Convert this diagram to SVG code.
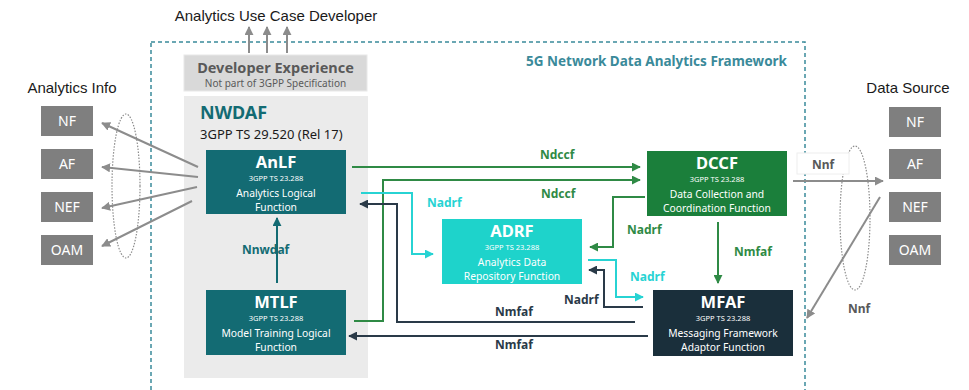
<svg xmlns="http://www.w3.org/2000/svg" width="969" height="390" viewBox="0 0 969 390">
<style>
text{font-family:"Noto Sans","Open Sans",sans-serif}
.lbl{font-family:"Liberation Sans",Arial,sans-serif;font-size:15px;fill:#1a1a1a}
.gbox{fill:#7f7f7f}
.gtxt{fill:#fff;font-size:14px;text-anchor:middle}
.ttl{fill:#fff;font-weight:bold;font-size:16.5px;text-anchor:middle}
.spec{fill:#fff;font-size:7.5px;text-anchor:middle}
.desc{fill:#fff;font-size:10.3px;text-anchor:middle}
.ln{fill:none;stroke-width:2}
.g{stroke:#2f8a45}.c{stroke:#27d3d3}.d{stroke:#2a3a48}.gr{stroke:#8c8c8c}.t{stroke:#136b73}
.lg{font-weight:bold;font-size:12px;fill:#2f8a45}
.lc{font-weight:bold;font-size:12px;fill:#27d3d3}
.ld{font-weight:bold;font-size:12px;fill:#2a3a48}
.lgr{font-weight:bold;font-size:12px;fill:#595959}
.lt{font-weight:bold;font-size:12px;fill:#136b73}
</style>
<defs>
<marker id="ag" viewBox="0 0 10 10" refX="9" refY="5" markerWidth="9" markerHeight="9" markerUnits="userSpaceOnUse" orient="auto"><path d="M0,0L10,5L0,10z" fill="#2f8a45"/></marker>
<marker id="ac" viewBox="0 0 10 10" refX="9" refY="5" markerWidth="9" markerHeight="9" markerUnits="userSpaceOnUse" orient="auto"><path d="M0,0L10,5L0,10z" fill="#27d3d3"/></marker>
<marker id="ad" viewBox="0 0 10 10" refX="9" refY="5" markerWidth="9" markerHeight="9" markerUnits="userSpaceOnUse" orient="auto"><path d="M0,0L10,5L0,10z" fill="#2a3a48"/></marker>
<marker id="agr" viewBox="0 0 10 10" refX="9" refY="5" markerWidth="9" markerHeight="9" markerUnits="userSpaceOnUse" orient="auto"><path d="M0,0L10,5L0,10z" fill="#8c8c8c"/></marker>
<marker id="at" viewBox="0 0 10 10" refX="9" refY="5" markerWidth="9" markerHeight="9" markerUnits="userSpaceOnUse" orient="auto"><path d="M0,0L10,5L0,10z" fill="#136b73"/></marker>
</defs>
<rect width="969" height="390" fill="#fff"/>

<g id="framework">
<rect x="151" y="42" width="654" height="360" fill="none" stroke="#3a8a9a" stroke-width="1.5" stroke-dasharray="4,3"/>
<text x="787" y="66" text-anchor="end" font-weight="bold" font-size="13.5" fill="#3a8a9a">5G Network Data Analytics Framework</text>
</g>

<g id="use-case-developer">
<text class="lbl" x="276" y="21" text-anchor="middle">Analytics Use Case Developer</text>
</g>

<g id="developer-experience">
<rect x="184" y="55" width="183" height="36" fill="#d9d9d9" stroke="#e8e8e8"/>
<text x="275.5" y="73" text-anchor="middle" font-weight="bold" font-size="14.5" fill="#595959">Developer Experience</text>
<text x="275.5" y="87" text-anchor="middle" font-size="10" fill="#595959">Not part of 3GPP Specification</text>
</g>

<g id="nwdaf">
<rect x="184" y="96" width="184" height="282" fill="#ebebeb"/>
<text x="200" y="119" font-weight="bold" font-size="18" fill="#136b73">NWDAF</text>
<text x="200" y="139" font-size="13" fill="#1a1a1a">3GPP TS 29.520 (Rel 17)</text>
</g>

<g id="anlf">
<rect x="206" y="150" width="140" height="64" fill="#136b73"/>
<text class="ttl" x="276" y="168">AnLF</text>
<text class="spec" x="276" y="181">3GPP TS 23.288</text>
<text class="desc" x="276" y="196.5">Analytics Logical</text>
<text class="desc" x="276" y="211">Function</text>
</g>

<g id="mtlf">
<rect x="206" y="290" width="140" height="65" fill="#136b73"/>
<text class="ttl" x="276" y="308">MTLF</text>
<text class="spec" x="276" y="321">3GPP TS 23.288</text>
<text class="desc" x="276" y="336.5">Model Training Logical</text>
<text class="desc" x="276" y="351">Function</text>
</g>

<g id="adrf">
<rect x="442" y="219" width="140" height="65" fill="#1ed3cb"/>
<text class="ttl" x="512" y="237">ADRF</text>
<text class="spec" x="512" y="250">3GPP TS 23.288</text>
<text class="desc" x="512" y="265.5">Analytics Data</text>
<text class="desc" x="512" y="280">Repository Function</text>
</g>

<g id="dccf">
<rect x="647" y="151" width="140" height="65" fill="#1b7f3b"/>
<text class="ttl" x="717" y="169">DCCF</text>
<text class="spec" x="717" y="182">3GPP TS 23.288</text>
<text class="desc" x="717" y="197.5">Data Collection and</text>
<text class="desc" x="717" y="212">Coordination Function</text>
</g>

<g id="mfaf">
<rect x="653" y="290" width="140" height="66" fill="#1a2f3b"/>
<text class="ttl" x="723" y="308">MFAF</text>
<text class="spec" x="723" y="321">3GPP TS 23.288</text>
<text class="desc" x="723" y="336.5">Messaging Framework</text>
<text class="desc" x="723" y="351">Adaptor Function</text>
</g>

<g id="analytics-info">
<text class="lbl" x="72" y="93" text-anchor="middle">Analytics Info</text>
<rect class="gbox" x="41" y="106" width="52" height="30"/><text class="gtxt" x="67" y="126">NF</text>
<rect class="gbox" x="41" y="149" width="52" height="30"/><text class="gtxt" x="67" y="169">AF</text>
<rect class="gbox" x="41" y="192" width="52" height="30"/><text class="gtxt" x="67" y="212">NEF</text>
<rect class="gbox" x="41" y="235" width="52" height="30"/><text class="gtxt" x="67" y="255">OAM</text>
<ellipse cx="126" cy="186" rx="14" ry="72" fill="none" stroke="#8c8c8c" stroke-width="1.2" stroke-dasharray="1.5,1.5"/>
</g>

<g id="data-source">
<text class="lbl" x="908" y="93" text-anchor="middle">Data Source</text>
<rect class="gbox" x="889" y="107" width="52" height="30"/><text class="gtxt" x="915" y="127">NF</text>
<rect class="gbox" x="889" y="149" width="52" height="30"/><text class="gtxt" x="915" y="169">AF</text>
<rect class="gbox" x="889" y="192" width="52" height="30"/><text class="gtxt" x="915" y="212">NEF</text>
<rect class="gbox" x="889" y="235" width="52" height="30"/><text class="gtxt" x="915" y="255">OAM</text>
<ellipse cx="855" cy="218" rx="15" ry="72" fill="none" stroke="#8c8c8c" stroke-width="1.2" stroke-dasharray="1.5,1.5"/>
</g>

<g id="connectors">
<!-- developer arrows -->
<line class="ln gr" x1="249" y1="53" x2="249" y2="27" marker-end="url(#agr)"/>
<line class="ln gr" x1="267" y1="53" x2="267" y2="27" marker-end="url(#agr)"/>
<line class="ln gr" x1="287" y1="53" x2="287" y2="27" marker-end="url(#agr)"/>
<!-- AnLF to analytics info -->
<line class="ln gr" x1="198" y1="167" x2="102" y2="123" marker-end="url(#agr)"/>
<line class="ln gr" x1="198" y1="177" x2="102" y2="167" marker-end="url(#agr)"/>
<line class="ln gr" x1="197" y1="187" x2="102" y2="208" marker-end="url(#agr)"/>
<line class="ln gr" x1="192" y1="201" x2="102" y2="246" marker-end="url(#agr)"/>
<!-- Nnwdaf -->
<line class="ln t" x1="277" y1="283" x2="277" y2="218" marker-end="url(#at)"/>
<text class="lt" x="242" y="254">Nnwdaf</text>
<!-- Ndccf -->
<line class="ln g" x1="352" y1="167" x2="640" y2="167" marker-end="url(#ag)"/>
<text class="lg" x="540" y="159">Ndccf</text>
<polyline class="ln g" points="354,321 383,321 383,180 640,180" marker-end="url(#ag)"/>
<text class="lg" x="541" y="198">Ndccf</text>
<!-- Nadrf green -->
<polyline class="ln g" points="645,197 613,197 613,247 590,247" marker-end="url(#ag)"/>
<text class="lg" x="627" y="234">Nadrf</text>
<!-- Nmfaf green -->
<line class="ln g" x1="718" y1="222" x2="718" y2="283" marker-end="url(#ag)"/>
<text class="lg" x="734" y="256">Nmfaf</text>
<!-- Nadrf cyan -->
<polyline class="ln c" points="361,193 412,193 412,254 433,254" marker-end="url(#ac)"/>
<text class="lc" x="427" y="207">Nadrf</text>
<polyline class="ln c" points="588,260 616,260 616,297 643,297" marker-end="url(#ac)"/>
<text class="lc" x="630" y="281">Nadrf</text>
<!-- Nadrf dark -->
<polyline class="ln d" points="643,307 604,307 604,270 589,270" marker-end="url(#ad)"/>
<text class="ld" x="564" y="304">Nadrf</text>
<!-- Nmfaf dark -->
<polyline class="ln d" points="635,322 397,322 397,204 360,204" marker-end="url(#ad)"/>
<text class="ld" x="495" y="316">Nmfaf</text>
<line class="ln d" x1="648" y1="336" x2="349" y2="336" marker-end="url(#ad)"/>
<text class="ld" x="495" y="349">Nmfaf</text>
<!-- Nnf -->
<rect x="797" y="153" width="52" height="21" fill="#fff" stroke="#eeeeee"/>
<text class="lgr" x="812" y="169">Nnf</text>
<line class="ln gr" x1="793" y1="181" x2="883" y2="181" marker-end="url(#agr)"/>
<line class="ln gr" x1="880" y1="197" x2="807" y2="318" marker-end="url(#agr)"/>
<text class="lgr" x="848" y="313">Nnf</text>
</g>
</svg>
